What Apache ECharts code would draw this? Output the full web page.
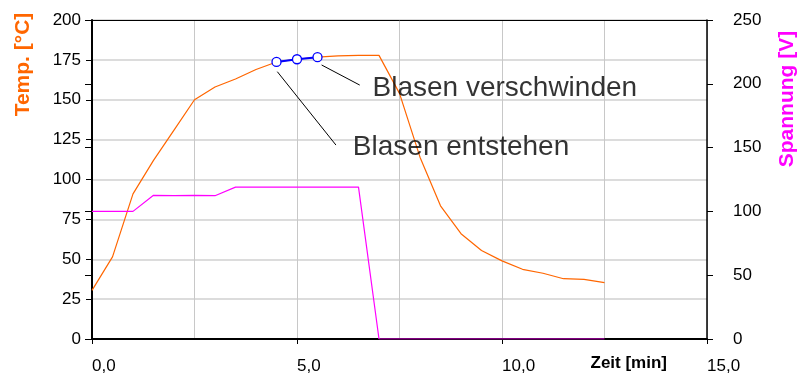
<!DOCTYPE html>
<html>
<head>
<meta charset="utf-8">
<script src="https://cdn.jsdelivr.net/npm/echarts@6/dist/echarts.min.js"></script>
<style>
  html, body { margin: 0; padding: 0; background: #fff; }
  #chart { width: 798px; height: 373px; }
</style>
</head>
<body>
<div id="chart"></div>
<script>
// Time in minutes
var times = [0, 0.5, 1, 1.5, 2, 2.5, 3, 3.5, 4, 4.5, 5, 5.5, 6, 6.5, 7, 7.5, 8, 8.5, 9, 9.5, 10, 10.5, 11, 11.5, 12, 12.5];
// Temperature [°C]
var temperature = [30.5, 51.5, 91, 112, 131, 150, 158, 163, 169, 173.7, 175.4, 176.7, 177.5, 177.8, 177.8, 154, 114, 83.5, 66, 55.5, 49, 43.7, 41.2, 37.8, 37.4, 35.3];
// Voltage [V]
var voltage = [100, 100, 100, 112.6, 112.3, 112.6, 112.3, 119, 119, 119, 119, 119, 119, 119, 0, 0, 0, 0, 0, 0, 0, 0, 0, 0, 0, 0];
// Bubble markers (Blasen)
var blasenTimes = [4.5, 5, 5.5];
var blasenTemp = [173.7, 175.4, 176.7];
// Annotations (data coordinates: [time, temperature])
var noteTexts = ['Blasen verschwinden', 'Blasen entstehen'];
var noteLineFrom = [[5.60, 171.8], [4.52, 167.6]];
var noteLineTo = [[6.53, 159.2], [5.95, 121.6]];
var noteTextPos = [[6.83, 157], [6.35, 120]];
// Axis tick settings
var xTicks = {min: 0, max: 15, interval: 5};
var yLeftTicks = {min: 0, max: 200, interval: 25};
var yRightTicks = {min: 0, max: 250, interval: 50};

var FONT = 'Liberation Sans, Arial, sans-serif';
var ORANGE = '#FF6600';
var MAGENTA = '#FF00FF';

function pairs(xs, ys) { return xs.map(function (x, i) { return [x, ys[i]]; }); }

var series = [{
  name: 'Temperatur',
  type: 'line',
  xAxisIndex: 0, yAxisIndex: 0,
  data: pairs(times, temperature),
  showSymbol: false, symbol: 'none',
  lineStyle: {color: ORANGE, width: 1.2},
  itemStyle: {color: ORANGE},
  z: 3
}, {
  name: 'Spannung',
  type: 'line',
  xAxisIndex: 0, yAxisIndex: 1,
  data: pairs(times, voltage),
  showSymbol: false, symbol: 'none',
  lineStyle: {color: MAGENTA, width: 1.2},
  itemStyle: {color: MAGENTA},
  z: 3
}, {
  name: 'Blasen',
  type: 'line',
  xAxisIndex: 0, yAxisIndex: 0,
  data: pairs(blasenTimes, blasenTemp),
  symbol: 'circle', symbolSize: 9, showSymbol: true,
  lineStyle: {color: '#0000FF', width: 2},
  itemStyle: {color: '#fff', borderColor: '#0000FF', borderWidth: 1.3},
  z: 4
}];

noteLineFrom.forEach(function (p, i) {
  series.push({
    name: 'note-line-' + i,
    type: 'line',
    xAxisIndex: 0, yAxisIndex: 0,
    data: [p, noteLineTo[i]],
    symbol: 'none', showSymbol: false, silent: true,
    lineStyle: {color: '#000', width: 1},
    z: 3
  });
});

series.push({
  name: 'notes',
  type: 'scatter',
  xAxisIndex: 0, yAxisIndex: 0,
  silent: true,
  symbol: 'circle', symbolSize: 1,
  itemStyle: {color: 'rgba(0,0,0,0)'},
  data: noteTextPos.map(function (p, i) { return {name: noteTexts[i], value: p}; }),
  label: {show: true, position: 'right', distance: 0, fontFamily: FONT, fontSize: 28, color: '#000',
    formatter: function (params) { return params.name; }},
  z: 5
});

var chart = echarts.init(document.getElementById('chart'));
chart.setOption({
  animation: false,
  grid: {left: 92, right: 91, top: 20, bottom: 34, containLabel: false, outerBoundsMode: 'none'},
  xAxis: [{
    type: 'value',
    min: xTicks.min, max: xTicks.max, interval: xTicks.interval,
    position: 'bottom',
    name: 'Zeit [min]',
    nameLocation: 'end',
    nameGap: -40,
    nameTextStyle: {fontFamily: FONT, fontSize: 17, fontWeight: 'bold', color: '#000', align: 'right', verticalAlign: 'top', lineHeight: 48},
    axisLine: {show: true, onZero: false, lineStyle: {color: '#000', width: 2}},
    axisTick: {show: true, length: 5, lineStyle: {color: '#000', width: 1}},
    axisLabel: {fontFamily: FONT, fontSize: 17, color: '#000', align: 'left', margin: 19,
      formatter: function (v) { return v.toFixed(1).replace('.', ','); }},
    splitLine: {show: true, lineStyle: {color: '#c8c8c8', width: 1}},
    minorTick: {show: true, splitNumber: 2, length: 0},
    minorSplitLine: {show: true, lineStyle: {color: '#c8c8c8', width: 1}}
  }, {
    type: 'value',
    min: xTicks.min, max: xTicks.max,
    position: 'top',
    axisLine: {show: true, onZero: false, lineStyle: {color: '#000', width: 1}},
    axisTick: {show: false}, axisLabel: {show: false}, splitLine: {show: false}
  }],
  yAxis: [{
    type: 'value',
    min: yLeftTicks.min, max: yLeftTicks.max, interval: yLeftTicks.interval,
    position: 'left',
    name: 'Temp. [°C]',
    nameLocation: 'middle',
    nameGap: 69,
    nameTextStyle: {fontFamily: FONT, fontSize: 21, fontWeight: 'bold', color: ORANGE, verticalAlign: 'middle', padding: [0, 0, 0, 230]},
    axisLine: {show: true, onZero: false, lineStyle: {color: '#000', width: 2}},
    axisTick: {show: true, length: 6, lineStyle: {color: '#000', width: 1}},
    axisLabel: {fontFamily: FONT, fontSize: 17, color: '#000', margin: 11},
    splitLine: {show: true, lineStyle: {color: '#d0d0d0', width: 1.5}}
  }, {
    type: 'value',
    min: yRightTicks.min, max: yRightTicks.max, interval: yRightTicks.interval,
    position: 'right',
    name: 'Spannung [V]',
    nameLocation: 'middle',
    nameGap: 80,
    nameTextStyle: {fontFamily: FONT, fontSize: 21, fontWeight: 'bold', color: MAGENTA, verticalAlign: 'middle', padding: [0, 0, 0, 161]},
    axisLine: {show: true, onZero: false, lineStyle: {color: '#000', width: 1.5}},
    axisTick: {show: true, length: 6, lineStyle: {color: '#000', width: 1}},
    axisLabel: {fontFamily: FONT, fontSize: 17, color: '#000', margin: 26},
    splitLine: {show: false}
  }, {
    type: 'value',
    min: yRightTicks.min, max: yRightTicks.max, interval: yRightTicks.interval,
    position: 'right',
    axisLine: {show: false},
    axisTick: {show: true, inside: true, length: 7, lineStyle: {color: '#000', width: 1}},
    axisLabel: {show: false},
    splitLine: {show: false}
  }],
  series: series
});
</script>
</body>
</html>
